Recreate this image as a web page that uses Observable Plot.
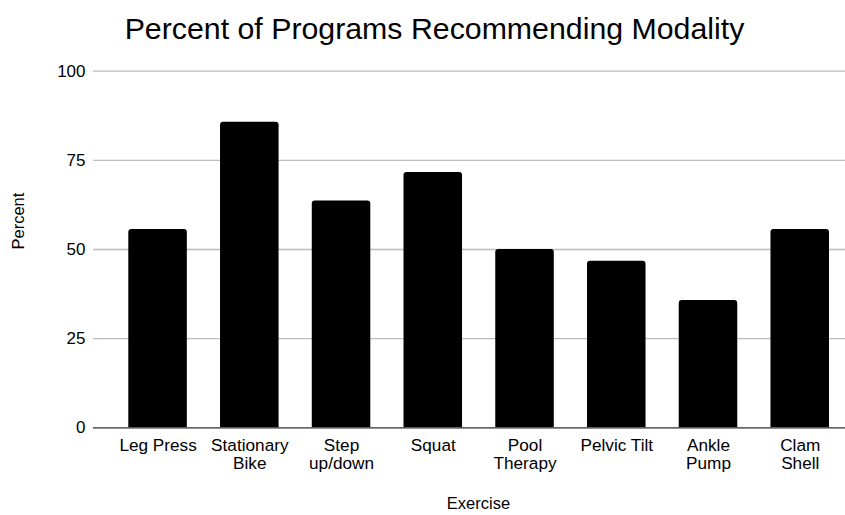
<!DOCTYPE html>
<html>
<head>
<meta charset="utf-8">
<script src="https://cdn.jsdelivr.net/npm/d3@7"></script>
<script src="https://cdn.jsdelivr.net/npm/@observablehq/plot@0.6"></script>
<style>
  html, body { margin: 0; padding: 0; background: #fff; }
  #title { height: 56px; width: 845px; font-family: "Liberation Sans", Arial, sans-serif; font-size: 30.3px; color: #000; text-align: center; line-height: 58px; box-sizing: border-box; padding-left: 24px; }
  svg { display: block; }
</style>
</head>
<body>
<div id="title">Percent of Programs Recommending Modality</div>
<div id="chart"></div>
<script>
const categories = ["Leg Press", "Stationary Bike", "Step up/down", "Squat", "Pool Therapy", "Pelvic Tilt", "Ankle Pump", "Clam Shell"];
const tickLabels = ["Leg Press", "Stationary\nBike", "Step\nup/down", "Squat", "Pool\nTherapy", "Pelvic Tilt", "Ankle\nPump", "Clam\nShell"];
const percents = [55.6, 85.7, 63.6, 71.6, 50, 46.7, 35.7, 55.6];
const yTicks = [0, 25, 50, 75, 100];

const data = categories.map((c, i) => ({exercise: c, percent: percents[i]}));
const labelOf = new Map(categories.map((c, i) => [c, tickLabels[i]]));

const chart = Plot.plot({
  width: 845,
  height: 459,
  marginLeft: 93,
  marginRight: 0,
  marginTop: 14.7,
  marginBottom: 87.7,
  style: {fontFamily: "'Liberation Sans', Arial, sans-serif", fontSize: "17px", color: "#000", background: "#fff"},
  x: {domain: categories, range: [128.3, 829], paddingInner: 0.362, paddingOuter: 0, round: false},
  y: {domain: [0, 100]},
  marks: [
    Plot.gridY(yTicks, {stroke: "#bdbdbd", strokeOpacity: 1, strokeWidth: 1.3}),
    Plot.barY(data, {x: "exercise", y: "percent", fill: "#000", ry1: 3, rx1y1: 3, rx2y1: 3}),
    Plot.ruleY([0], {stroke: "#444", strokeWidth: 1.3}),
    Plot.axisY(yTicks, {tickSize: 0, tickPadding: 8, fontSize: 17, label: null}),
    Plot.axisX({tickSize: 0, tickPadding: 10.5, fontSize: 17.2, lineHeight: 1.06, tickFormat: d => labelOf.get(d), label: null}),
    Plot.text(["Percent"], {frameAnchor: "left", dx: -75, rotate: -90, fontSize: 16.5, fill: "#000"}),
    Plot.text(["Exercise"], {frameAnchor: "bottom", dx: 9, dy: 81, fontSize: 16.5, fill: "#000"})
  ]
});
document.getElementById("chart").appendChild(chart);
</script>
</body>
</html>
